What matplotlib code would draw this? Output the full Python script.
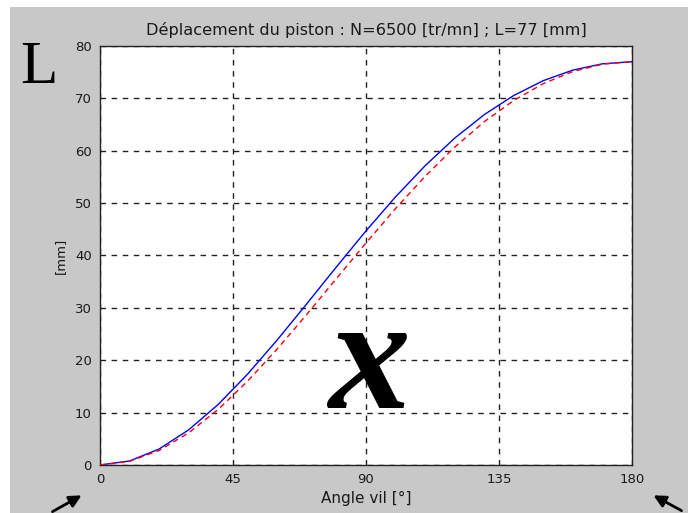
import numpy as np
import matplotlib.pyplot as plt
from matplotlib.patches import Rectangle, FancyArrowPatch

# angle du vilebrequin [deg]
angle = [0, 10, 20, 30, 40, 50, 60, 70, 80, 90,
         100, 110, 120, 130, 140, 150, 160, 170, 180]
# deplacement exact (bleu) et approche (rouge) [mm]
x_exact = [0.0, 0.77, 3.05, 6.71, 11.57, 17.39, 23.90, 30.81, 37.83, 44.70,
           51.20, 57.14, 62.40, 66.89, 70.56, 73.39, 75.40, 76.60, 77.0]
x_approx = [0.0, 0.70, 2.78, 6.13, 10.62, 16.04, 22.18, 28.78, 35.60, 42.40,
            48.97, 55.11, 60.68, 65.54, 69.60, 72.82, 75.13, 76.53, 77.0]

xticks = [0, 45, 90, 135, 180]
yticks = [0, 10, 20, 30, 40, 50, 60, 70, 80]

W, H = 688, 513
fig = plt.figure(figsize=(W / 100, H / 100), dpi=100, facecolor='white')
# fond gris facon figure matlab
fond = Rectangle((10 / W, 0), 1, 1 - 7 / H, transform=fig.transFigure,
                 facecolor='#c8c8c8', edgecolor='none', zorder=-10)
fig.add_artist(fond)

ax = fig.add_axes([100 / W, 48 / H, 532 / W, 419 / H])
ax.set_zorder(1)
ax.set_facecolor('white')
ax.plot(angle, x_exact, color='blue', lw=1, zorder=3)
ax.plot(angle, x_approx, color='red', lw=1, ls=(0, (4, 3)), zorder=3)

ax.set_xlim(0, 180)
ax.set_ylim(0, 80)
ax.set_xticks(xticks)
ax.set_yticks(yticks)
ax.grid(True, color='#222222', ls=(0, (4, 4)), lw=1)
ax.tick_params(direction='in', length=0, labelsize=9.5, pad=6, colors='#1a1a1a')
for s in ax.spines.values():
    s.set_linewidth(1)
    s.set_color('#222222')

ax.set_title('Déplacement du piston : N=6500 [tr/mn] ; L=77 [mm]', fontsize=11.6,
             pad=8, color='#1a1a1a')
ax.set_xlabel('Angle vil [°]', fontsize=11, labelpad=3, color='#1a1a1a')
ax.set_ylabel('[mm]', fontsize=9.5, labelpad=6, color='#1a1a1a')

# annotations
fig.text(39 / W, 1 - 68 / H, 'L', family='Liberation Serif', fontsize=44,
         ha='center', va='center', zorder=5)
ax.text(91.3, 18.3, 'x', family='Liberation Serif', style='italic', weight='bold',
        fontsize=118, ha='center', va='center', zorder=4)

for tip, tail in [((84, 494), (50, 513)), ((651, 494), (684, 512))]:
    fig.add_artist(FancyArrowPatch(
        (tail[0] / W, 1 - tail[1] / H), (tip[0] / W, 1 - tip[1] / H),
        transform=fig.transFigure, arrowstyle='-|>', color='black', lw=2,
        mutation_scale=18, zorder=5))

fig.savefig('out.png', dpi=100, facecolor=fig.get_facecolor())
